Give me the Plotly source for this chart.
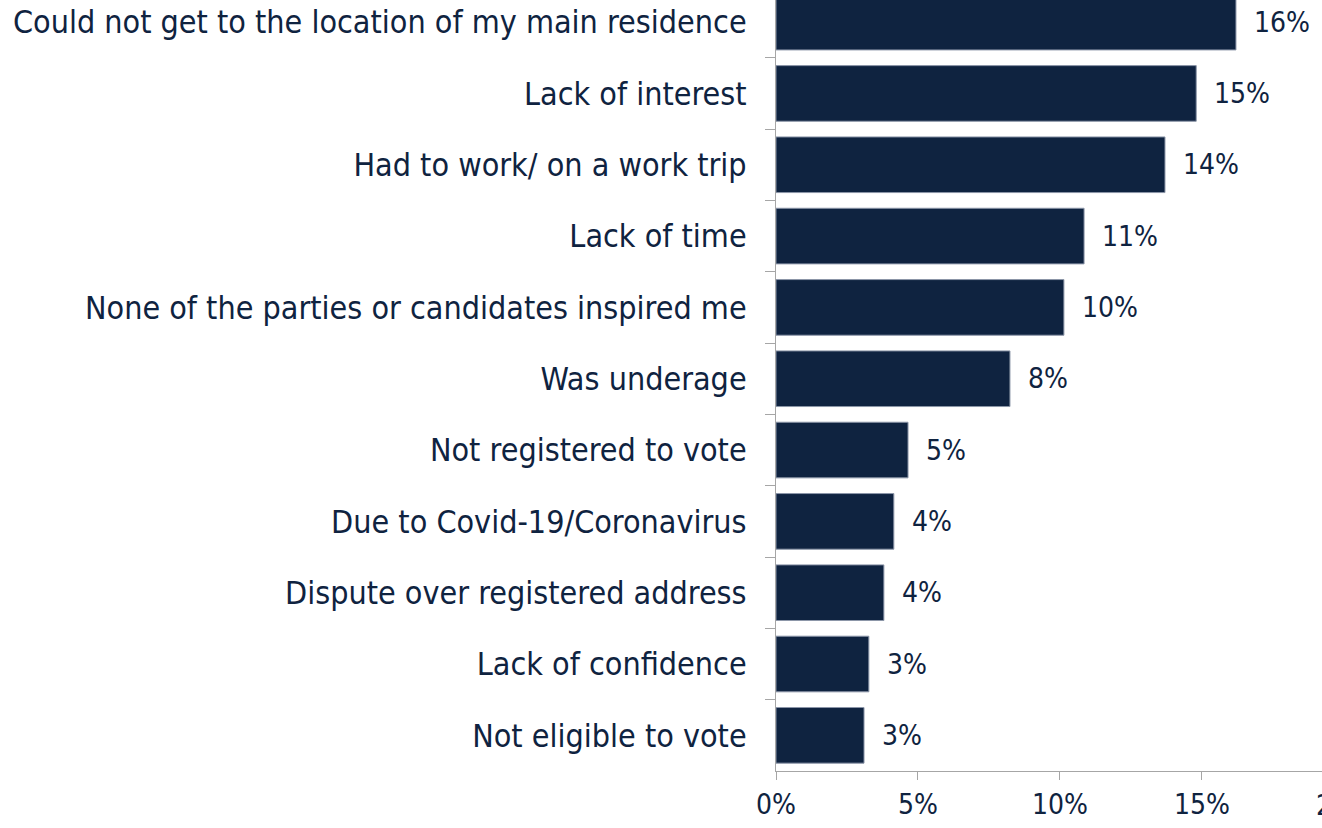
import plotly.graph_objects as go

# Données
reasons = [
    "Could not get to the location of my main residence",
    "Lack of interest",
    "Had to work/ on a work trip",
    "Lack of time",
    "None of the parties or candidates inspired me",
    "Was underage",
    "Not registered to vote",
    "Due to Covid-19/Coronavirus",
    "Dispute over registered address",
    "Lack of confidence",
    "Not eligible to vote",
]
shares = [0.162, 0.148, 0.137, 0.1085, 0.1014, 0.0824, 0.0465, 0.0415, 0.038, 0.0327, 0.031]
share_labels = ["16%", "15%", "14%", "11%", "10%", "8%", "5%", "4%", "4%", "3%", "3%"]
x_ticks = [0, 0.05, 0.10, 0.15]
x_tick_labels = ["0%", "5%", "10%", "15%"]

NAVY = "#0f2340"
GREY = "#a6a6a6"
FONT = "DejaVu Sans Condensed"
NUM_SIZE = 28

fig = go.Figure()

fig.add_trace(go.Bar(
    x=shares,
    y=reasons,
    orientation="h",
    width=0.78,
    marker=dict(color=NAVY, line=dict(color="#8c96a8", width=1)),
    hoverinfo="skip",
))

# Étiquettes de valeur
for r, v, lab in zip(reasons, shares, share_labels):
    fig.add_annotation(x=v, y=r, xref="x", yref="y", text=lab, showarrow=False,
                       xanchor="left", xshift=16, font=dict(size=NUM_SIZE, color=NAVY, family=FONT))

# 20% coupé au bord droit
fig.add_annotation(x=(0.20 / 0.1923), y=0, xref="paper", yref="paper", yshift=-34,
                   text="20%", showarrow=False, xanchor="center", yanchor="middle",
                   font=dict(size=NUM_SIZE, color=NAVY, family=FONT))

fig.update_xaxes(
    range=[0, 0.1923],
    tickvals=x_ticks,
    ticktext=x_tick_labels,
    ticks="outside",
    ticklen=8,
    tickcolor=GREY,
    showline=True,
    linecolor=GREY,
    linewidth=1,
    showgrid=False,
    zeroline=False,
    tickfont=dict(size=NUM_SIZE, color=NAVY, family=FONT),
)

fig.update_yaxes(
    categoryorder="array",
    categoryarray=reasons,
    range=[10.5, -0.31],
    tickson="boundaries",
    ticks="outside",
    ticklen=10,
    tickcolor=GREY,
    showline=True,
    linecolor=GREY,
    linewidth=1,
    showgrid=False,
    zeroline=False,
    ticklabelstandoff=22,
    tickfont=dict(size=32, color=NAVY, family=FONT),
)

fig.update_layout(
    width=1322,
    height=828,
    margin=dict(l=776, r=0, t=0, b=57),
    plot_bgcolor="white",
    paper_bgcolor="white",
    showlegend=False,
    bargap=0.2,
)

fig.write_html("out.html", config={"displayModeBar": False},
               post_script="document.body.style.margin = '0';")
